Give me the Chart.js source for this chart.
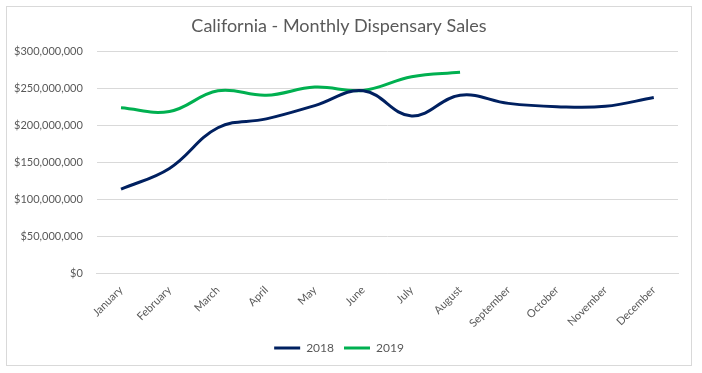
<!DOCTYPE html>
<html>
<head>
<meta charset="utf-8">
<script src="https://cdn.jsdelivr.net/npm/chart.js@4/dist/chart.umd.min.js"></script>
<style>
  html, body { margin: 0; padding: 0; background: #fff; }
  #frame {
    position: absolute; left: 6px; top: 6px; width: 686px; height: 360px;
    border: 1px solid #d9d9d9; box-sizing: border-box;
  }
  #wrap { position: absolute; left: 0; top: 0; width: 702px; height: 373px; }
</style>
</head>
<body>
<div id="frame"></div>
<div id="wrap"><canvas id="salesChart"></canvas></div>
<script>
const months = ['January', 'February', 'March', 'April', 'May', 'June',
    'July', 'August', 'September', 'October', 'November', 'December'];
const sales2018 = [114e6, 142e6, 197e6, 209e6, 227e6, 247e6, 213e6, 241e6, 230e6, 225.5e6, 226e6, 238e6];
const sales2019 = [224e6, 219e6, 247e6, 241e6, 252e6, 247.5e6, 266e6, 272e6];
const yTicks = [0, 50e6, 100e6, 150e6, 200e6, 250e6, 300e6];

const fontFamily = 'Lato, "Open Sans", sans-serif';
const textGray = '#595959';
const gridGray = '#d9d9d9';

const ctx = document.getElementById('salesChart').getContext('2d');
new Chart(ctx, {
    type: 'line',
    data: {
        labels: months,
        datasets: [{
            label: '2018',
            data: sales2018,
            borderColor: '#002060',
            backgroundColor: '#002060',
            borderWidth: 3,
            pointRadius: 0,
            tension: 0.4
        }, {
            label: '2019',
            data: sales2019,
            borderColor: '#00b050',
            backgroundColor: '#00b050',
            borderWidth: 3,
            pointRadius: 0,
            tension: 0.4
        }]
    },
    options: {
        responsive: true,
        maintainAspectRatio: false,
        animation: false,
        layout: { padding: { left: 0, right: 24, top: 9, bottom: 9 } },
        plugins: {
            title: {
                display: true,
                text: 'California - Monthly Dispensary Sales',
                color: textGray,
                font: { family: fontFamily, size: 18, weight: 'normal' },
                padding: { top: 6, bottom: 15 }
            },
            legend: {
                position: 'bottom',
                labels: {
                    color: textGray,
                    font: { family: fontFamily, size: 12 },
                    usePointStyle: true,
                    pointStyle: 'line',
                    pointStyleWidth: 26,
                    padding: 10
                }
            },
            tooltip: { enabled: false }
        },
        scales: {
            x: {
                offset: true,
                grid: { display: false },
                border: { display: true, color: gridGray },
                ticks: {
                    color: textGray,
                    font: { family: fontFamily, size: 11 },
                    minRotation: 45,
                    maxRotation: 45,
                    padding: 2
                }
            },
            y: {
                min: 0,
                max: 300e6,
                afterBuildTicks: axis => { axis.ticks = yTicks.map(v => ({ value: v })); },
                grid: { color: gridGray, drawTicks: false },
                border: { display: false },
                ticks: {
                    color: textGray,
                    font: { family: fontFamily, size: 11 },
                    padding: 14,
                    callback: v => '$' + v.toLocaleString('en-US')
                }
            }
        }
    }
});
</script>
</body>
</html>
